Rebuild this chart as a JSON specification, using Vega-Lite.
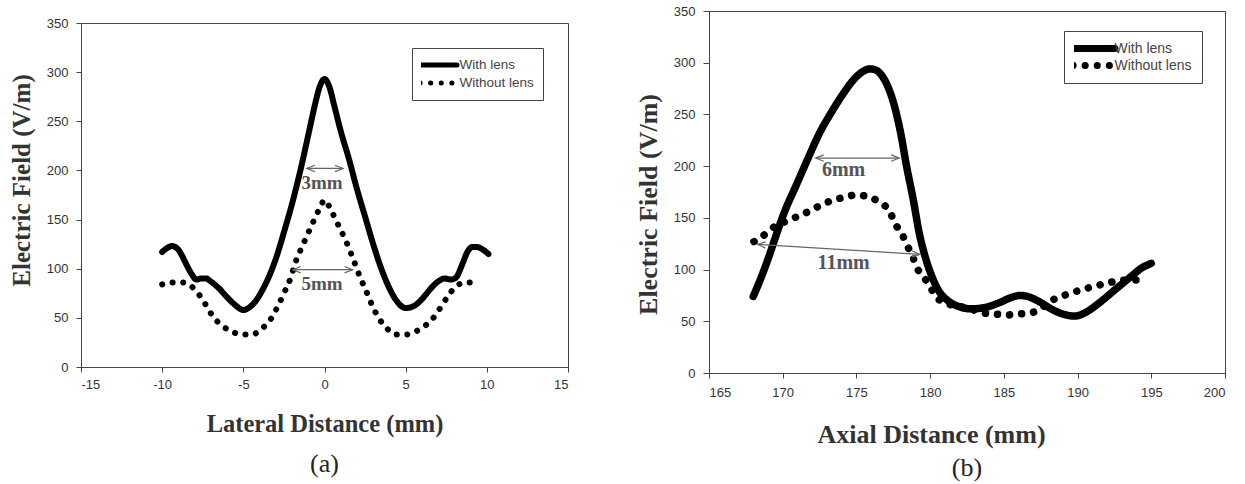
{
  "$schema": "https://vega.github.io/schema/vega-lite/v6.json",
  "padding": {"left": 8, "top": 4, "right": 5, "bottom": 5},
  "spacing": 65,
  "resolve": {"scale": {"strokeDash": "independent"}, "legend": {"strokeDash": "independent"}},
  "config": {
    "view": {"stroke": "#444", "strokeWidth": 1},
    "axis": {
      "labelFont": "Liberation Sans", "labelFontSize": 13, "labelColor": "#333",
      "domainColor": "#444", "tickColor": "#444", "tickSize": 5, "grid": false,
      "titleFont": "Liberation Serif", "titleFontWeight": "bold", "titleColor": "#333"
    },
    "title": {"font": "Liberation Serif", "fontSize": 26, "fontWeight": "normal", "color": "#222"}
  },
  "datasets": {
    "leftCurves": [
      {"series": "With lens", "x": -10.0, "y": 117}, {"series": "With lens", "x": -9.7, "y": 121},
      {"series": "With lens", "x": -9.4, "y": 123}, {"series": "With lens", "x": -9.1, "y": 121},
      {"series": "With lens", "x": -8.8, "y": 114}, {"series": "With lens", "x": -8.5, "y": 104},
      {"series": "With lens", "x": -8.2, "y": 95}, {"series": "With lens", "x": -7.9, "y": 89},
      {"series": "With lens", "x": -7.6, "y": 90}, {"series": "With lens", "x": -7.3, "y": 90},
      {"series": "With lens", "x": -7.0, "y": 87}, {"series": "With lens", "x": -6.5, "y": 80},
      {"series": "With lens", "x": -6.0, "y": 71}, {"series": "With lens", "x": -5.5, "y": 63},
      {"series": "With lens", "x": -5.0, "y": 58}, {"series": "With lens", "x": -4.6, "y": 61},
      {"series": "With lens", "x": -4.2, "y": 68}, {"series": "With lens", "x": -3.8, "y": 79},
      {"series": "With lens", "x": -3.5, "y": 89}, {"series": "With lens", "x": -3.0, "y": 110},
      {"series": "With lens", "x": -2.5, "y": 137}, {"series": "With lens", "x": -2.0, "y": 166},
      {"series": "With lens", "x": -1.5, "y": 199}, {"series": "With lens", "x": -1.0, "y": 236},
      {"series": "With lens", "x": -0.6, "y": 266}, {"series": "With lens", "x": -0.3, "y": 285},
      {"series": "With lens", "x": 0.0, "y": 293}, {"series": "With lens", "x": 0.3, "y": 285},
      {"series": "With lens", "x": 0.6, "y": 266}, {"series": "With lens", "x": 1.0, "y": 240},
      {"series": "With lens", "x": 1.5, "y": 212}, {"series": "With lens", "x": 2.0, "y": 181},
      {"series": "With lens", "x": 2.5, "y": 153}, {"series": "With lens", "x": 3.0, "y": 125},
      {"series": "With lens", "x": 3.5, "y": 100}, {"series": "With lens", "x": 4.0, "y": 80},
      {"series": "With lens", "x": 4.5, "y": 66}, {"series": "With lens", "x": 5.0, "y": 60},
      {"series": "With lens", "x": 5.5, "y": 62}, {"series": "With lens", "x": 6.0, "y": 69},
      {"series": "With lens", "x": 6.5, "y": 79}, {"series": "With lens", "x": 7.0, "y": 87},
      {"series": "With lens", "x": 7.4, "y": 90}, {"series": "With lens", "x": 7.8, "y": 89},
      {"series": "With lens", "x": 8.1, "y": 91}, {"series": "With lens", "x": 8.5, "y": 105},
      {"series": "With lens", "x": 8.8, "y": 117}, {"series": "With lens", "x": 9.1, "y": 122},
      {"series": "With lens", "x": 9.4, "y": 122}, {"series": "With lens", "x": 9.7, "y": 120},
      {"series": "With lens", "x": 10.1, "y": 115},
      {"series": "Without lens", "x": -10.0, "y": 84}, {"series": "Without lens", "x": -9.4, "y": 86},
      {"series": "Without lens", "x": -8.8, "y": 86}, {"series": "Without lens", "x": -8.2, "y": 82},
      {"series": "Without lens", "x": -7.7, "y": 73}, {"series": "Without lens", "x": -7.3, "y": 63},
      {"series": "Without lens", "x": -6.9, "y": 52}, {"series": "Without lens", "x": -6.3, "y": 42},
      {"series": "Without lens", "x": -5.7, "y": 36}, {"series": "Without lens", "x": -5.1, "y": 33},
      {"series": "Without lens", "x": -4.5, "y": 33}, {"series": "Without lens", "x": -3.85, "y": 39},
      {"series": "Without lens", "x": -3.3, "y": 49}, {"series": "Without lens", "x": -2.9, "y": 61},
      {"series": "Without lens", "x": -2.5, "y": 75}, {"series": "Without lens", "x": -2.1, "y": 90},
      {"series": "Without lens", "x": -1.8, "y": 106}, {"series": "Without lens", "x": -1.45, "y": 120},
      {"series": "Without lens", "x": -1.15, "y": 131}, {"series": "Without lens", "x": -0.85, "y": 142},
      {"series": "Without lens", "x": -0.55, "y": 153}, {"series": "Without lens", "x": -0.25, "y": 163},
      {"series": "Without lens", "x": 0.0, "y": 170}, {"series": "Without lens", "x": 0.3, "y": 163},
      {"series": "Without lens", "x": 0.6, "y": 153}, {"series": "Without lens", "x": 0.95, "y": 141},
      {"series": "Without lens", "x": 1.3, "y": 129}, {"series": "Without lens", "x": 1.6, "y": 117},
      {"series": "Without lens", "x": 1.9, "y": 104}, {"series": "Without lens", "x": 2.2, "y": 91},
      {"series": "Without lens", "x": 2.55, "y": 78}, {"series": "Without lens", "x": 2.9, "y": 64},
      {"series": "Without lens", "x": 3.3, "y": 51}, {"series": "Without lens", "x": 3.8, "y": 40},
      {"series": "Without lens", "x": 4.4, "y": 33}, {"series": "Without lens", "x": 5.0, "y": 33},
      {"series": "Without lens", "x": 5.6, "y": 36}, {"series": "Without lens", "x": 6.2, "y": 42},
      {"series": "Without lens", "x": 6.8, "y": 52}, {"series": "Without lens", "x": 7.2, "y": 62},
      {"series": "Without lens", "x": 7.6, "y": 72}, {"series": "Without lens", "x": 8.1, "y": 82},
      {"series": "Without lens", "x": 8.7, "y": 86}, {"series": "Without lens", "x": 9.4, "y": 86}
    ],
    "leftArrows": [
      {"label": "3mm", "x": -1.09, "x2": 1.14, "y": 202, "tx": -0.15, "ty": 187},
      {"label": "5mm", "x": -1.96, "x2": 1.73, "y": 99, "tx": -0.15, "ty": 84}
    ],
    "leftHeads": [
      {"x": -1.09, "y": 202, "dir": "left"}, {"x": 1.14, "y": 202, "dir": "right"},
      {"x": -1.96, "y": 99, "dir": "left"}, {"x": 1.73, "y": 99, "dir": "right"}
    ],
    "rightCurves": [
      {"series": "With lens", "x": 168.0, "y": 74}, {"series": "With lens", "x": 168.5, "y": 91},
      {"series": "With lens", "x": 169.0, "y": 110}, {"series": "With lens", "x": 169.5, "y": 131},
      {"series": "With lens", "x": 170.1, "y": 155}, {"series": "With lens", "x": 170.9, "y": 181},
      {"series": "With lens", "x": 171.7, "y": 207}, {"series": "With lens", "x": 172.5, "y": 232},
      {"series": "With lens", "x": 173.3, "y": 252}, {"series": "With lens", "x": 174.1, "y": 270},
      {"series": "With lens", "x": 174.9, "y": 285}, {"series": "With lens", "x": 175.5, "y": 292},
      {"series": "With lens", "x": 175.9, "y": 294}, {"series": "With lens", "x": 176.3, "y": 293},
      {"series": "With lens", "x": 176.7, "y": 288}, {"series": "With lens", "x": 177.1, "y": 278},
      {"series": "With lens", "x": 177.6, "y": 257}, {"series": "With lens", "x": 178.0, "y": 232},
      {"series": "With lens", "x": 178.4, "y": 200}, {"series": "With lens", "x": 178.85, "y": 168},
      {"series": "With lens", "x": 179.25, "y": 136}, {"series": "With lens", "x": 179.65, "y": 113},
      {"series": "With lens", "x": 180.1, "y": 94}, {"series": "With lens", "x": 180.6, "y": 79},
      {"series": "With lens", "x": 181.2, "y": 70}, {"series": "With lens", "x": 182.0, "y": 64},
      {"series": "With lens", "x": 182.8, "y": 62}, {"series": "With lens", "x": 183.6, "y": 63},
      {"series": "With lens", "x": 184.7, "y": 68}, {"series": "With lens", "x": 185.5, "y": 73},
      {"series": "With lens", "x": 186.1, "y": 75}, {"series": "With lens", "x": 186.6, "y": 74},
      {"series": "With lens", "x": 187.4, "y": 69}, {"series": "With lens", "x": 188.2, "y": 62},
      {"series": "With lens", "x": 189.0, "y": 57}, {"series": "With lens", "x": 189.8, "y": 55},
      {"series": "With lens", "x": 190.6, "y": 59}, {"series": "With lens", "x": 191.4, "y": 67},
      {"series": "With lens", "x": 192.5, "y": 80}, {"series": "With lens", "x": 193.6, "y": 93},
      {"series": "With lens", "x": 194.4, "y": 102}, {"series": "With lens", "x": 195.0, "y": 106},
      {"series": "Without lens", "x": 168.05, "y": 127}, {"series": "Without lens", "x": 168.8, "y": 134},
      {"series": "Without lens", "x": 169.5, "y": 142}, {"series": "Without lens", "x": 170.3, "y": 147},
      {"series": "Without lens", "x": 171.1, "y": 152}, {"series": "Without lens", "x": 171.9, "y": 157},
      {"series": "Without lens", "x": 172.67, "y": 163}, {"series": "Without lens", "x": 173.4, "y": 167},
      {"series": "Without lens", "x": 174.2, "y": 170}, {"series": "Without lens", "x": 174.9, "y": 172},
      {"series": "Without lens", "x": 175.7, "y": 171}, {"series": "Without lens", "x": 176.45, "y": 166},
      {"series": "Without lens", "x": 177.26, "y": 156}, {"series": "Without lens", "x": 177.6, "y": 145},
      {"series": "Without lens", "x": 178.1, "y": 134}, {"series": "Without lens", "x": 178.45, "y": 123},
      {"series": "Without lens", "x": 178.8, "y": 113}, {"series": "Without lens", "x": 179.1, "y": 102},
      {"series": "Without lens", "x": 179.7, "y": 90}, {"series": "Without lens", "x": 180.6, "y": 71},
      {"series": "Without lens", "x": 181.4, "y": 66}, {"series": "Without lens", "x": 182.5, "y": 63},
      {"series": "Without lens", "x": 183.6, "y": 58}, {"series": "Without lens", "x": 184.4, "y": 57},
      {"series": "Without lens", "x": 185.1, "y": 56}, {"series": "Without lens", "x": 185.9, "y": 57},
      {"series": "Without lens", "x": 186.7, "y": 58}, {"series": "Without lens", "x": 187.4, "y": 61},
      {"series": "Without lens", "x": 188.1, "y": 69}, {"series": "Without lens", "x": 188.9, "y": 74},
      {"series": "Without lens", "x": 189.7, "y": 78}, {"series": "Without lens", "x": 190.4, "y": 81},
      {"series": "Without lens", "x": 191.2, "y": 84}, {"series": "Without lens", "x": 192.0, "y": 87},
      {"series": "Without lens", "x": 192.8, "y": 89}, {"series": "Without lens", "x": 193.6, "y": 90},
      {"series": "Without lens", "x": 194.3, "y": 90}
    ],
    "rightArrows": [
      {"label": "6mm", "x": 172.24, "y": 207.8, "x2": 177.9, "y2": 207.8, "tx": 174.13, "ty": 196.5},
      {"label": "11mm", "x": 168.3, "y": 124.3, "x2": 179.3, "y2": 114.6, "tx": 174.13, "ty": 106.6}
    ],
    "rightHeads": [
      {"arrow": "6mm", "x": 172.24, "y": 207.8, "dir": "left"},
      {"arrow": "6mm", "x": 177.9, "y": 207.8, "dir": "right"},
      {"arrow": "11mm", "x": 168.3, "y": 124.3, "dir": "left"},
      {"arrow": "11mm", "x": 179.3, "y": 114.6, "dir": "right"}
    ]
  },
  "hconcat": [
    {
      "spacing": 4,
      "resolve": {"scale": {"strokeDash": "independent"}, "legend": {"strokeDash": "independent"}},
      "vconcat": [
        {
          "width": 487,
          "height": 1,
          "view": {"stroke": null},
          "data": {"values": []},
          "mark": {"type": "point", "opacity": 0}
        },
        {
          "width": 487,
          "height": 344,
          "title": {"text": "(a)", "orient": "bottom", "offset": 15},
          "layer": [
            {
              "data": {"name": "leftCurves"},
              "mark": {"type": "line", "color": "black", "strokeWidth": 6, "strokeCap": "round", "strokeJoin": "round", "interpolate": "monotone"},
              "encoding": {
                "x": {"field": "x", "type": "quantitative", "scale": {"domain": [-15, 15], "nice": false, "zero": false},
                      "axis": {"orient": "bottom", "title": "Lateral Distance (mm)", "values": [-15, -10, -5, 0, 5, 10, 15], "labelExpr": "'' + datum.value", "labelPadding": 6, "titlePadding": 21, "titleFontSize": 24.5}},
                "y": {"field": "y", "type": "quantitative", "scale": {"domain": [0, 350], "nice": false},
                      "axis": {"orient": "left", "title": "Electric Field (V/m)", "values": [0, 50, 100, 150, 200, 250, 300, 350], "labelPadding": 8, "titlePadding": 12, "titleFontSize": 25, "titleY": 157}},
                "strokeDash": {"field": "series", "type": "nominal",
                      "scale": {"domain": ["With lens", "Without lens"], "range": [[1, 0], [0.1, 10.5]]},
                      "legend": {"title": null, "orient": "none", "legendX": 331, "legendY": 25, "strokeColor": "#444", "fillColor": "white", "padding": 9,
                                 "symbolType": "stroke", "symbolSize": 1369, "symbolStrokeWidth": 5, "symbolStrokeColor": "black",
                                 "clipHeight": 16, "rowPadding": 2, "symbolOffset": -3.5, "labelOffset": 0,
                                 "labelFont": "Liberation Sans", "labelFontSize": 13.5, "labelColor": "#444",
                                 "encode": {"symbols": {"update": {"strokeCap": {"value": "round"}}}}}}
              }
            },
            {
              "data": {"name": "leftArrows"},
              "mark": {"type": "rule", "color": "#666", "strokeWidth": 1.2},
              "encoding": {
                "x": {"field": "x", "type": "quantitative", "scale": {"domain": [-15, 15], "nice": false, "zero": false}},
                "x2": {"field": "x2"},
                "y": {"field": "y", "type": "quantitative", "scale": {"domain": [0, 350], "nice": false}}
              }
            },
            {
              "data": {"name": "leftHeads"},
              "mark": {"type": "point", "filled": false, "stroke": "#666", "strokeWidth": 1.2, "size": 64, "opacity": 1},
              "encoding": {
                "x": {"field": "x", "type": "quantitative", "scale": {"domain": [-15, 15], "nice": false, "zero": false}},
                "y": {"field": "y", "type": "quantitative", "scale": {"domain": [0, 350], "nice": false}},
                "shape": {"field": "dir", "type": "nominal", "scale": {"domain": ["left", "right"], "range": ["M2,-0.8L0,0L2,0.8", "M-2,-0.8L0,0L-2,0.8"]}, "legend": null}
              }
            },
            {
              "data": {"name": "leftArrows"},
              "mark": {"type": "text", "font": "Liberation Serif", "fontWeight": "bold", "fontSize": 19, "color": "#555"},
              "encoding": {
                "x": {"field": "tx", "type": "quantitative", "scale": {"domain": [-15, 15], "nice": false, "zero": false}},
                "y": {"field": "ty", "type": "quantitative", "scale": {"domain": [0, 350], "nice": false}},
                "text": {"field": "label"}
              }
            }
          ]
        }
      ]
    },
    {
      "width": 516,
      "height": 362,
      "title": {"text": "(b)", "orient": "bottom", "offset": 8},
      "layer": [
        {
          "data": {"name": "rightCurves"},
          "mark": {"type": "line", "color": "black", "strokeWidth": 7.5, "strokeCap": "round", "strokeJoin": "round", "interpolate": "monotone"},
          "encoding": {
            "x": {"field": "x", "type": "quantitative", "scale": {"domain": [165, 200], "nice": false, "zero": false},
                  "axis": {"orient": "bottom", "title": "Axial Distance (mm)", "values": [165, 170, 175, 180, 185, 190, 195, 200], "labelPadding": 8, "titlePadding": 22, "titleFontSize": 26, "titleX": 222}},
            "y": {"field": "y", "type": "quantitative", "scale": {"domain": [0, 350], "nice": false},
                  "axis": {"orient": "left", "title": "Electric Field (V/m)", "values": [0, 50, 100, 150, 200, 250, 300, 350], "labelPadding": 8, "tickSize": 6, "titlePadding": 12, "titleFontSize": 26, "titleY": 193}},
            "strokeDash": {"field": "series", "type": "nominal",
                  "scale": {"domain": ["With lens", "Without lens"], "range": [[1, 0], [0.1, 12]]},
                  "legend": {"title": null, "orient": "none", "legendX": 355, "legendY": 20, "strokeColor": "#444", "fillColor": "white", "padding": 10,
                             "symbolType": "stroke", "symbolSize": 1764, "symbolStrokeWidth": 7, "symbolStrokeColor": "black",
                             "clipHeight": 15, "rowPadding": 2, "symbolOffset": -4.5, "labelOffset": -4,
                             "labelFont": "Liberation Sans", "labelFontSize": 14, "labelColor": "#444",
                             "encode": {"symbols": {"update": {"strokeCap": {"value": "round"}}}}}}
          }
        },
        {
          "data": {"name": "rightArrows"},
          "mark": {"type": "rule", "color": "#666", "strokeWidth": 1.2},
          "encoding": {
            "x": {"field": "x", "type": "quantitative", "scale": {"domain": [165, 200], "nice": false, "zero": false}},
            "x2": {"field": "x2"},
            "y": {"field": "y", "type": "quantitative", "scale": {"domain": [0, 350], "nice": false}},
            "y2": {"field": "y2"}
          }
        },
        {
          "data": {"name": "rightHeads"},
          "transform": [{"filter": "datum.arrow == '6mm'"}],
          "mark": {"type": "point", "filled": false, "stroke": "#666", "strokeWidth": 1.2, "size": 64, "opacity": 1},
          "encoding": {
            "x": {"field": "x", "type": "quantitative", "scale": {"domain": [165, 200], "nice": false, "zero": false}},
            "y": {"field": "y", "type": "quantitative", "scale": {"domain": [0, 350], "nice": false}},
            "shape": {"field": "dir", "type": "nominal", "scale": {"domain": ["left", "right"], "range": ["M2,-0.8L0,0L2,0.8", "M-2,-0.8L0,0L-2,0.8"]}, "legend": null}
          }
        },
        {
          "data": {"name": "rightHeads"},
          "transform": [{"filter": "datum.arrow == '11mm'"}],
          "mark": {"type": "point", "filled": false, "stroke": "#666", "strokeWidth": 1.2, "size": 64, "opacity": 1, "angle": 3.5},
          "encoding": {
            "x": {"field": "x", "type": "quantitative", "scale": {"domain": [165, 200], "nice": false, "zero": false}},
            "y": {"field": "y", "type": "quantitative", "scale": {"domain": [0, 350], "nice": false}},
            "shape": {"field": "dir", "type": "nominal", "scale": {"domain": ["left", "right"], "range": ["M2,-0.8L0,0L2,0.8", "M-2,-0.8L0,0L-2,0.8"]}, "legend": null}
          }
        },
        {
          "data": {"name": "rightArrows"},
          "mark": {"type": "text", "font": "Liberation Serif", "fontWeight": "bold", "fontSize": 20, "color": "#555"},
          "encoding": {
            "x": {"field": "tx", "type": "quantitative", "scale": {"domain": [165, 200], "nice": false, "zero": false}},
            "y": {"field": "ty", "type": "quantitative", "scale": {"domain": [0, 350], "nice": false}},
            "text": {"field": "label"}
          }
        }
      ]
    }
  ]
}
